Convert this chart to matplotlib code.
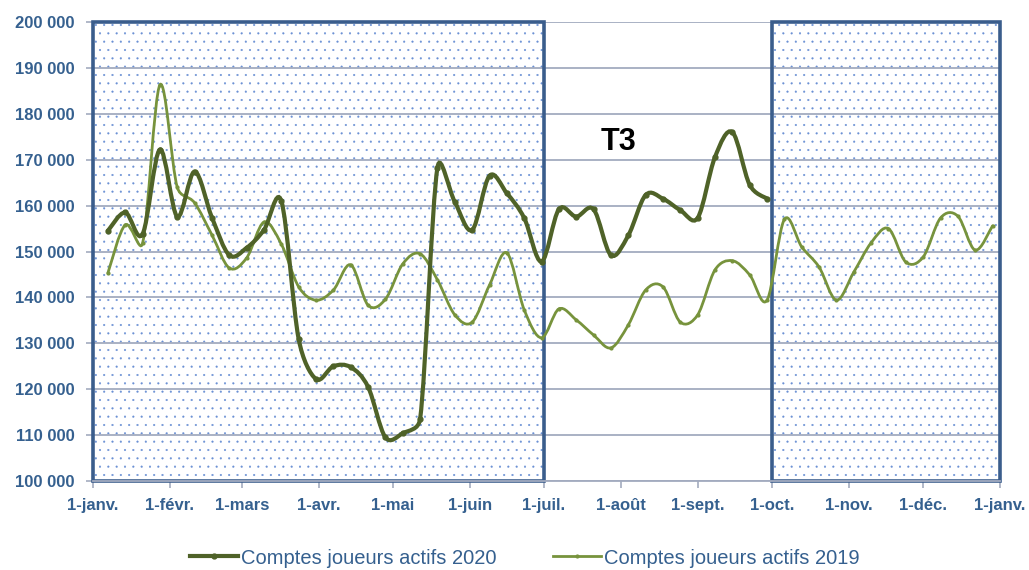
import matplotlib
matplotlib.use("Agg")
import matplotlib.pyplot as plt
import numpy as np
from matplotlib.patches import Rectangle, PathPatch
from matplotlib.path import Path
from matplotlib.lines import Line2D
from matplotlib.ticker import FuncFormatter

plt.rcParams['font.family'] = ['Liberation Sans', 'DejaVu Sans']
plt.rcParams['hatch.linewidth'] = 0.3

# =========================
# DATA
# =========================
month_days = [0, 31, 60, 91, 121, 152, 182, 213, 244, 274, 305, 335, 366]
month_labels = ["1-janv.", "1-févr.", "1-mars", "1-avr.", "1-mai", "1-juin",
                "1-juil.", "1-août", "1-sept.", "1-oct.", "1-nov.", "1-déc.",
                "1-janv."]

comptes_2020 = [154500, 158500, 153800, 172200, 157600, 167400, 157400, 149200,
                150800, 154700, 161000, 130900, 122200, 125000, 124800, 120500,
                109500, 110400, 113500, 168300, 160800, 154700, 166500, 162700,
                157300, 147800, 159200, 157600, 159200, 149200, 153500, 162300,
                161500, 159000, 157300, 170600, 176000, 164500, 161500]

comptes_2019 = [145300, 155800, 151800, 186300, 164000, 160600, 153600, 146400,
                148600, 156400, 151600, 142300, 139400, 141600, 147100, 138300,
                139600, 147300, 149500, 143800, 136200, 134600, 142700, 149700,
                137300, 131200, 137500, 135100, 131800, 129000, 134000, 141600,
                142300, 134600, 136200, 146000, 148000, 144900, 139400, 157000,
                151000, 146600, 139400, 145500, 151900, 155000, 147700, 148800,
                157300, 157700, 150300, 155600]

# weekly points (day of year)
days_2020 = 6 + 7 * np.arange(len(comptes_2020))
days_2019 = 6 + 7 * np.arange(len(comptes_2019))

# shaded periods (T1-T2 and T4)
shaded = [(0, 182), (274, 366)]

C2020 = "#4F6228"
C2019 = "#77933C"
BLUE = "#3A5D8C"
GRID = "#A3ABBF"
TXT = "#35608F"


def smooth_path(ax, x, y, clamp=0.5):
    # Excel-like smoothed line: Catmull-Rom Bezier, handles clamped to segment length
    pts = ax.transData.transform(np.column_stack([x, y]).astype(float))
    n = len(pts)
    verts = [pts[0]]
    codes = [Path.MOVETO]
    for i in range(n - 1):
        p0 = pts[i - 1] if i > 0 else pts[i]
        p1 = pts[i]
        p2 = pts[i + 1]
        p3 = pts[i + 2] if i + 2 < n else pts[i + 1]
        L = np.linalg.norm(p2 - p1)
        t1 = (p2 - p0) / 6
        t2 = (p3 - p1) / 6
        for t in (t1, t2):
            m = np.linalg.norm(t)
            if m > clamp * L:
                t *= clamp * L / m
        verts += [p1 + t1, p2 - t2, p2]
        codes += [Path.CURVE4] * 3
    verts = ax.transData.inverted().transform(np.array(verts))
    return Path(verts, codes)


# =========================
# PLOT
# =========================
fig = plt.figure(figsize=(10.29, 5.70), dpi=100)
ax = fig.add_axes([93 / 1029, 1 - 481 / 570, 907 / 1029, 459 / 570])

ax.set_xlim(0, 366)
ax.set_ylim(100000, 200000)

# dotted background + frame for shaded periods
for x0, x1 in shaded:
    ax.add_patch(Rectangle((x0, 100000), x1 - x0, 100000, facecolor="white",
                           edgecolor="#6A90D4", hatch="..", lw=0, zorder=0.5))
    ax.add_patch(Rectangle((x0, 100000), x1 - x0, 100000, facecolor="none",
                           edgecolor=BLUE, lw=2.6, zorder=2.5, clip_on=False))

ax.set_yticks(np.arange(100000, 200001, 10000))
ax.grid(axis="y", color=GRID, lw=1.3, zorder=1)
ax.set_axisbelow(True)

ax.add_patch(PathPatch(smooth_path(ax, days_2019, comptes_2019), facecolor="none",
                       edgecolor=C2019, lw=2.0, zorder=3, capstyle="round"))
ax.plot(days_2019, comptes_2019, ls="none", marker="o", ms=2.0, color=C2019, zorder=3)

ax.add_patch(PathPatch(smooth_path(ax, days_2020, comptes_2020), facecolor="none",
                       edgecolor=C2020, lw=3.0, zorder=4, capstyle="round"))
ax.plot(days_2020, comptes_2020, ls="none", marker="o", ms=3.5, color=C2020, zorder=4)

ax.text(212, 173800, "T3", fontsize=22, fontweight="bold", color="black",
        ha="center", va="center", zorder=5)

ax.set_xticks(month_days)
ax.set_xticklabels(month_labels)
ax.yaxis.set_major_formatter(FuncFormatter(lambda v, p: f"{int(v):,}".replace(",", " ")))

for s in ["top", "right", "left"]:
    ax.spines[s].set_visible(False)
ax.spines["bottom"].set_color(GRID)
ax.spines["bottom"].set_linewidth(1.3)

ax.tick_params(axis="both", colors=GRID, length=5, width=1.2, direction="out")
ax.tick_params(axis="y", pad=8, labelcolor=TXT, labelsize=12)
ax.tick_params(axis="x", pad=7, labelcolor=TXT, labelsize=12)
for lab in ax.get_xticklabels() + ax.get_yticklabels():
    lab.set_fontweight("bold")

handles = [
    Line2D([], [], color=C2020, lw=3.0, marker="o", ms=3.5),
    Line2D([], [], color=C2019, lw=2.0, marker="o", ms=2.0),
]
leg = fig.legend(handles, ["Comptes joueurs actifs 2020", "Comptes joueurs actifs 2019"],
                 loc="center", bbox_to_anchor=(525 / 1029, 1 - 558 / 570), ncol=2,
                 frameon=False, fontsize=14.5, handlelength=2.4, handletextpad=0.15,
                 columnspacing=2.8, markerfirst=True)
for t in leg.get_texts():
    t.set_color(TXT)

fig.savefig("out.png", dpi=100)
